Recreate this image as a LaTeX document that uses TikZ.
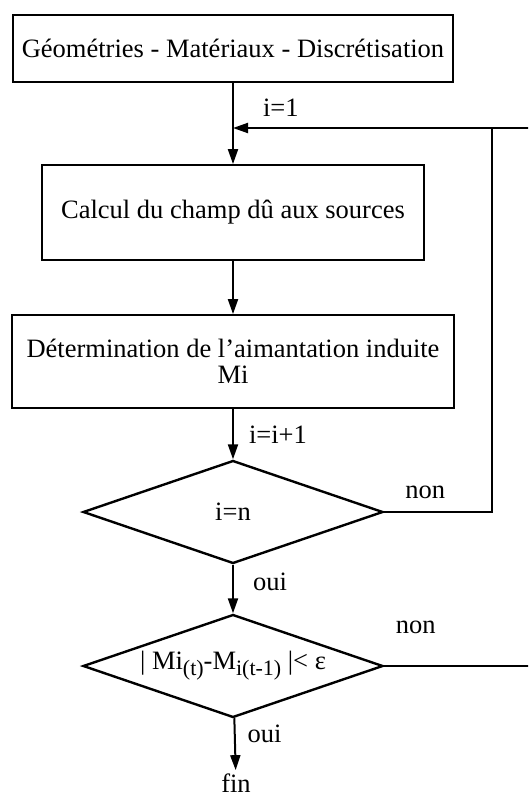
\documentclass[tikz,border=0pt]{standalone}
\usepackage{fontspec}
\setmainfont{Liberation Serif}
\usetikzlibrary{shapes.geometric,arrows.meta}

\newcommand{\bas}[1]{\raisebox{-6pt}{\fontsize{22}{22}\selectfont #1}}

\begin{document}
\begin{tikzpicture}[x=1pt, y=-1pt,
    every node/.style={font=\fontsize{26.5}{26}\selectfont},
    etape/.style={draw, line width=1.8pt, inner sep=0pt, align=center},
    test/.style={diamond, draw, line width=2.4pt, inner sep=0pt, aspect=2.9,
                 minimum width=300pt, minimum height=103pt},
    lien/.style={line width=2pt},
    fleche/.style={lien, -{Triangle[length=15pt,width=10pt]}},
    etiq/.style={inner sep=0pt}
]
    \useasboundingbox (0,0) rectangle (528,801);
    \clip (0,0) rectangle (528,801);

    \node[etape, minimum width=440pt, minimum height=67pt] (geom) at (233,48.5)
        {Géométries - Matériaux - Discrétisation};
    \node[etape, minimum width=382pt, minimum height=95pt] (champ) at (233,212.5)
        {Calcul du champ dû aux sources};
    \node[etape, minimum width=442pt, minimum height=93pt] (aiman) at (233,361.5)
        {Détermination de l’aimantation induite\\Mi};
    \node[test] (testn) at (233,512) {i=n};
    \node[test] (testm) at (233,666) {| Mi\bas{(t)}-M\bas{i(t-1)} |< ε};
    \node (fin) at (236,783) {fin};

    \coordinate (joint) at (233,128);
    \coordinate (coin1) at (492,128);
    \coordinate (coin2) at (560,666);
    \coordinate (coin3) at (560,128);

    \draw[fleche] (geom) -- node[etiq, pos=0.31, anchor=west, xshift=29pt]{i=1} (champ);
    \draw[fleche] (champ) -- (aiman);
    \draw[fleche] (aiman) -- node[etiq, pos=0.51, anchor=west, xshift=15pt]{i=i+1} (testn);
    \draw[fleche] (testn) -- node[etiq, pos=0.35, anchor=west, xshift=19pt]{oui} (testm);
    \draw[fleche] (testm) -- node[etiq, pos=0.3, anchor=west, xshift=12pt]{oui} (fin);

    \draw[fleche] (testn.east) -- node[etiq, pos=0.38, anchor=south, yshift=12pt]{non}
        (testn.east -| coin1) -- (coin1) -- (joint);
    \draw[lien] (testm.east) -- node[etiq, pos=0.18, anchor=south, yshift=31pt]{non}
        (coin2) -- (coin3) -- (coin1);
\end{tikzpicture}
\end{document}
